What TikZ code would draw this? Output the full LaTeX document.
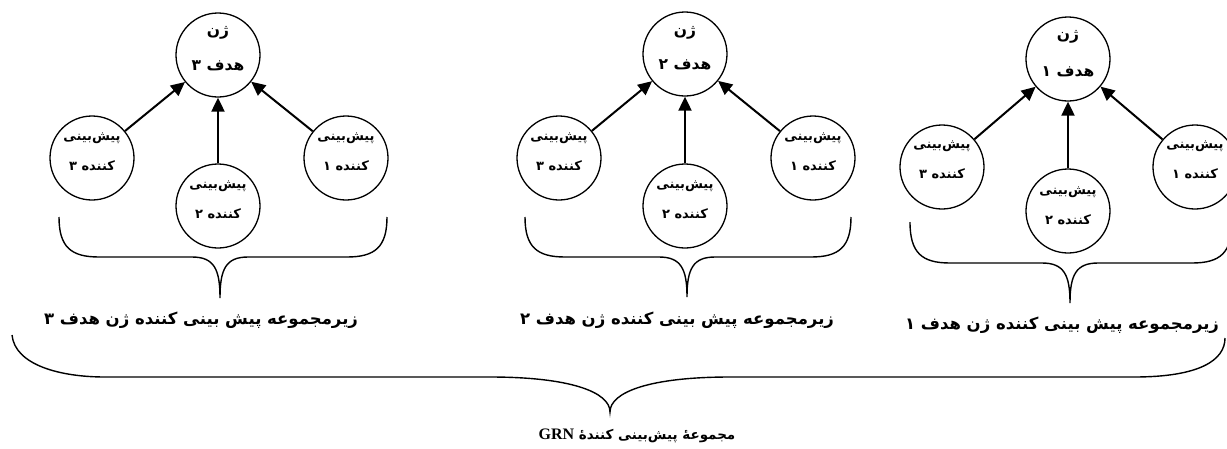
\documentclass[tikz,border=0pt]{standalone}
\usepackage{fontspec}
\setmainfont{Liberation Serif}
\newfontfamily\fa[Script=Arabic]{DejaVu Sans}
\TeXXeTstate=1
\usetikzlibrary{arrows.meta}
\newcommand\grpbrace[6]{% left x, top y, horizontal y, tip x, tip y, right x
  \draw[brc] (#1,#2) .. controls (#1,{#3-10}) and ({#1+12},#3) .. ({#1+40},#3)
    -- ({#4-28},#3) .. controls ({#4-6},#3) and (#4,{#3+12}) .. (#4,#5)
    .. controls (#4,{#3+12}) and ({#4+6},#3) .. ({#4+28},#3)
    -- ({#6-40},#3) .. controls ({#6-12},#3) and (#6,{#3-10}) .. (#6,#2);}
\begin{document}
\begin{tikzpicture}[x=1pt,y=-1pt,
  circ/.style={circle,draw,line width=1.3pt,minimum size=84pt,inner sep=0pt},
  arr/.style={line width=2pt,-{Triangle[length=14pt,width=13pt]}},
  brc/.style={line width=1.4pt},
  ctxt/.style={font=\fa\bfseries\fontsize{13}{15}\selectfont,inner sep=0pt},
  ttxt/.style={font=\fa\bfseries\fontsize{15.5}{18}\selectfont,inner sep=0pt},
  ltxt/.style={font=\fa\bfseries\fontsize{16.5}{19}\selectfont,inner sep=0pt},
  ftxt/.style={font=\fa\bfseries\fontsize{13.5}{16}\selectfont,inner sep=0pt}]
\useasboundingbox (0,0) rectangle (1227,448);

% ---------- group 3 (left) ----------
\node[circ] (t3) at (218,55) {};
\node[circ] (t3p3) at (92,158) {};
\node[circ] (t3p2) at (218,206) {};
\node[circ] (t3p1) at (346,158) {};
\node[ttxt,yshift=22pt] (t3a) at (t3) {\beginR ژن\endR};
\node[ttxt,yshift=-11pt] (t3b) at (t3) {\beginR هدف ۳\endR};
\node[ctxt,yshift=20pt] (t3p3a) at (t3p3) {\beginR پیش‌بینی\endR};
\node[ctxt,yshift=-8pt] (t3p3b) at (t3p3) {\beginR کننده ۳\endR};
\node[ctxt,yshift=20pt] (t3p2a) at (t3p2) {\beginR پیش‌بینی\endR};
\node[ctxt,yshift=-8pt] (t3p2b) at (t3p2) {\beginR کننده ۲\endR};
\node[ctxt,yshift=20pt] (t3p1a) at (t3p1) {\beginR پیش‌بینی\endR};
\node[ctxt,yshift=-8pt] (t3p1b) at (t3p1) {\beginR کننده ۱\endR};
\draw[arr] (t3p3) -- (t3);
\draw[arr] (t3p2) -- (t3);
\draw[arr] (t3p1) -- (t3);
\grpbrace{59}{217}{257}{220}{298}{387}
\node[ltxt] (l3) at (201,320) {\beginR زیرمجموعه پیش بینی کننده ژن هدف ۳\endR};

% ---------- group 2 (middle) ----------
\node[circ] (t2) at (685,54) {};
\node[circ] (t2p3) at (559,158) {};
\node[circ] (t2p2) at (685,206) {};
\node[circ] (t2p1) at (813,158) {};
\node[ttxt,yshift=21pt] (t2a) at (t2) {\beginR ژن\endR};
\node[ttxt,yshift=-11pt] (t2b) at (t2) {\beginR هدف ۲\endR};
\node[ctxt,yshift=20pt] (t2p3a) at (t2p3) {\beginR پیش‌بینی\endR};
\node[ctxt,yshift=-8pt] (t2p3b) at (t2p3) {\beginR کننده ۳\endR};
\node[ctxt,yshift=20pt] (t2p2a) at (t2p2) {\beginR پیش‌بینی\endR};
\node[ctxt,yshift=-8pt] (t2p2b) at (t2p2) {\beginR کننده ۲\endR};
\node[ctxt,yshift=20pt] (t2p1a) at (t2p1) {\beginR پیش‌بینی\endR};
\node[ctxt,yshift=-8pt] (t2p1b) at (t2p1) {\beginR کننده ۱\endR};
\draw[arr] (t2p3) -- (t2);
\draw[arr] (t2p2) -- (t2);
\draw[arr] (t2p1) -- (t2);
\grpbrace{525}{217}{257}{687}{297}{851}
\node[ltxt] (l2) at (677,320) {\beginR زیرمجموعه پیش بینی کننده ژن هدف ۲\endR};

% ---------- group 1 (right) ----------
\node[circ] (t1) at (1068,59) {};
\node[circ] (t1p3) at (942,167) {};
\node[circ] (t1p2) at (1068,211) {};
\node[circ] (t1p1) at (1195,167) {};
\node[ttxt,yshift=22pt] (t1a) at (t1) {\beginR ژن\endR};
\node[ttxt,yshift=-13pt] (t1b) at (t1) {\beginR هدف ۱\endR};
\node[ctxt,yshift=21pt] (t1p3a) at (t1p3) {\beginR پیش‌بینی\endR};
\node[ctxt,yshift=-7pt] (t1p3b) at (t1p3) {\beginR کننده ۳\endR};
\node[ctxt,yshift=19pt] (t1p2a) at (t1p2) {\beginR پیش‌بینی\endR};
\node[ctxt,yshift=-9pt] (t1p2b) at (t1p2) {\beginR کننده ۲\endR};
\node[ctxt,yshift=21pt] (t1p1a) at (t1p1) {\beginR پیش‌بینی\endR};
\node[ctxt,yshift=-7pt] (t1p1b) at (t1p1) {\beginR کننده ۱\endR};
\draw[arr] (t1p3) -- (t1);
\draw[arr] (t1p2) -- (t1);
\draw[arr] (t1p1) -- (t1);
\grpbrace{910}{222}{263}{1070}{303}{1232}
\node[ltxt] (l1) at (1062,325) {\beginR زیرمجموعه پیش بینی کننده ژن هدف ۱\endR};

% ---------- big brace ----------
\draw[brc] (12,335) .. controls (15,365) and (60,377) .. (105,377)
  -- (490,377) .. controls (570,377) and (610,392) .. (610,412)
  .. controls (610,392) and (650,377) .. (730,377)
  -- (1134,377) .. controls (1200,377) and (1225,360) .. (1225,338);
\node[ftxt] (lall) at (637,436) {\beginR مجموعهٔ پیش‌بینی کنندهٔ {\rmfamily\bfseries\fontsize{16}{18}\selectfont\beginL GRN\endL}\endR};
\end{tikzpicture}
\end{document}
